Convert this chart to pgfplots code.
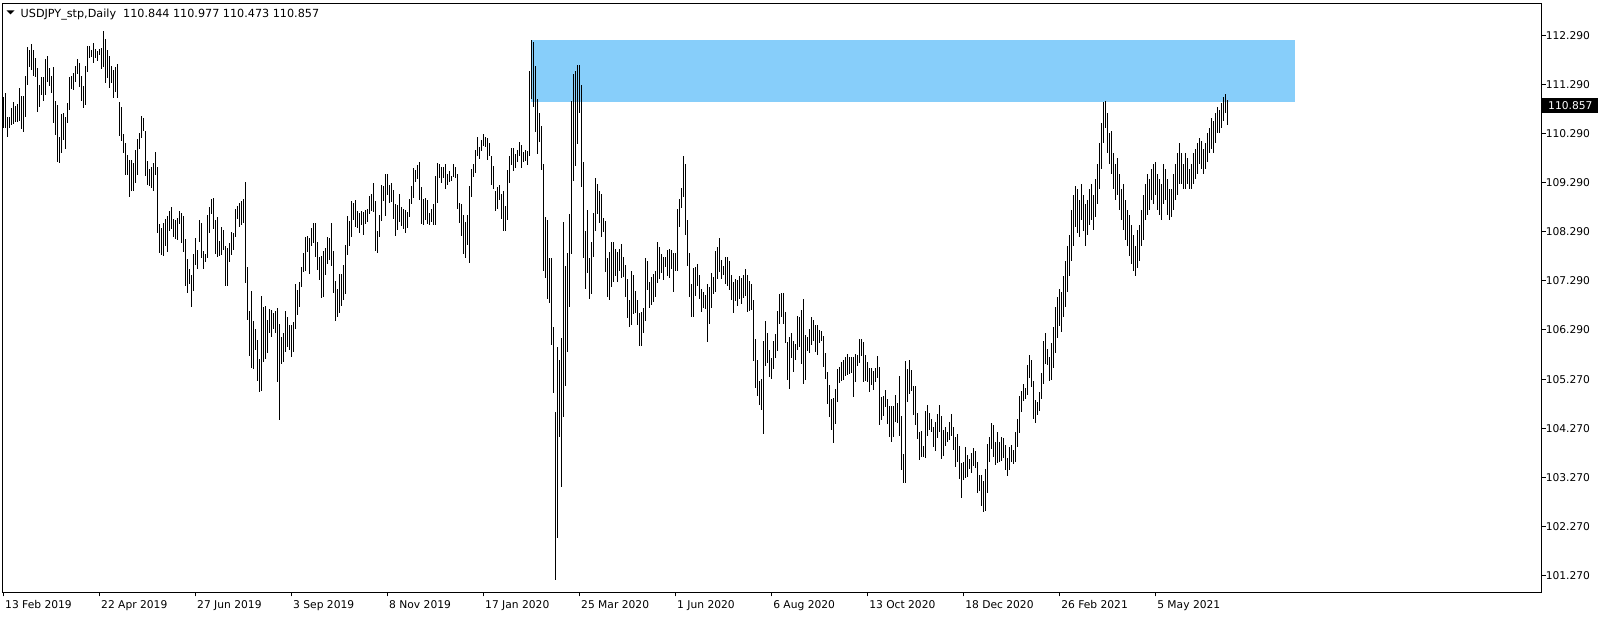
\documentclass[border=0pt]{standalone}
\usepackage{fontspec}
\setmainfont{DejaVu Sans}
\usepackage{pgfplots}
\usepackage{pgfplotstable}
\pgfplotsset{compat=1.18}
\definecolor{zone}{RGB}{135,206,250}

% daily high / low, USDJPY, one row per bar
\pgfplotstableread{
h l
111.05 110.40
111.13 110.42
110.64 110.23
110.64 110.42
110.82 110.46
110.93 110.50
110.86 110.54
110.90 110.54
111.23 110.55
111.07 110.38
111.07 110.33
111.47 110.64
112.07 111.29
112.00 111.66
112.12 111.59
112.00 111.46
111.83 111.44
111.64 110.74
111.29 110.84
111.46 111.08
111.46 110.97
111.82 111.08
111.88 111.35
111.63 111.27
111.48 111.13
111.66 110.52
110.95 110.27
110.88 109.72
110.23 109.69
110.69 109.89
110.71 110.16
110.64 109.99
110.93 110.52
111.44 110.78
111.46 111.20
111.54 111.18
111.68 111.35
111.82 111.51
111.73 111.25
111.46 110.95
111.27 110.82
111.67 110.88
112.08 111.56
112.08 111.83
112.00 111.86
112.15 111.73
112.03 111.83
111.98 111.78
112.02 111.90
112.05 111.61
112.39 111.66
112.22 111.33
112.00 111.42
111.88 111.22
111.67 111.32
111.59 111.03
111.66 111.15
111.71 111.03
110.93 110.25
110.84 110.14
110.29 109.89
110.11 109.46
109.86 109.46
109.76 109.01
109.76 109.13
109.70 109.13
109.96 109.29
110.18 109.46
110.31 109.99
110.66 110.21
110.61 110.35
110.35 109.44
109.74 109.25
109.57 109.23
109.62 109.19
109.70 109.13
109.92 109.46
109.62 108.26
108.45 107.87
108.36 107.82
108.48 107.80
108.55 108.00
108.61 107.87
108.72 108.31
108.79 108.34
108.55 108.19
108.53 108.14
108.58 108.12
108.72 108.45
108.67 108.06
108.61 107.89
108.14 107.19
107.74 107.04
107.53 107.23
107.41 106.76
107.84 107.09
108.17 107.61
107.92 107.53
108.53 108.09
108.48 107.75
107.90 107.53
107.84 107.68
108.63 107.76
108.79 108.26
108.96 108.65
108.99 108.34
108.53 107.84
108.59 107.78
108.11 107.80
108.38 107.82
108.33 107.92
108.00 107.19
107.97 107.19
108.07 107.68
108.28 107.82
108.27 107.93
108.76 108.18
108.82 108.55
108.89 108.40
108.92 108.44
108.97 108.48
109.31 107.24
107.58 106.49
106.68 105.76
107.08 105.51
106.47 105.49
106.31 105.88
106.08 105.25
105.70 105.03
106.98 105.05
106.76 105.64
106.78 105.69
106.49 105.81
106.71 106.22
106.70 106.15
106.64 106.31
106.68 106.22
106.73 105.23
106.41 104.45
106.14 105.59
106.23 105.64
106.68 105.83
106.56 105.95
106.39 105.88
106.39 105.73
106.46 105.83
107.23 106.30
107.10 106.59
107.26 106.75
107.58 107.17
107.87 107.48
108.19 107.50
108.21 107.89
108.16 107.43
108.38 108.01
108.48 108.06
108.48 107.77
108.09 107.51
107.77 107.30
107.80 106.95
107.89 106.97
107.97 107.41
108.19 107.63
108.17 107.72
108.48 107.60
107.89 107.04
107.29 106.48
107.12 106.55
107.44 106.64
107.44 106.78
107.61 106.90
108.02 107.02
108.61 107.82
108.52 108.00
108.91 108.18
108.87 108.53
108.94 108.38
108.72 108.36
108.67 108.27
108.72 108.42
108.70 108.23
108.74 108.46
108.76 108.50
109.02 108.65
109.06 108.72
109.28 108.70
108.91 107.90
108.31 107.87
108.63 108.18
109.25 108.52
109.23 108.91
109.47 108.62
109.47 109.04
109.25 108.87
109.28 108.91
109.14 108.55
108.86 108.21
108.84 108.33
109.06 108.50
108.80 108.40
108.75 108.34
108.74 108.26
108.70 108.38
108.96 108.59
109.23 108.86
109.59 108.99
109.55 109.31
109.65 109.36
109.71 108.95
109.20 108.45
108.96 108.42
108.99 108.53
108.93 108.45
108.67 108.42
108.76 108.50
108.86 108.44
109.43 108.44
109.69 108.87
109.67 109.38
109.62 109.28
109.62 109.38
109.67 109.16
109.48 109.25
109.53 109.31
109.44 109.33
109.68 109.40
109.62 109.39
109.47 108.75
108.89 108.48
108.86 108.20
108.64 107.84
108.50 107.75
108.63 108.02
109.23 107.65
109.58 109.00
109.68 109.41
109.95 109.49
110.22 109.84
110.02 109.77
110.17 109.95
110.28 110.04
110.22 110.02
110.21 109.75
110.10 109.83
109.84 109.25
109.64 109.16
109.13 108.72
109.20 108.75
109.25 108.94
109.07 108.55
109.13 108.30
108.81 108.30
109.55 108.53
109.84 109.29
110.01 109.66
110.01 109.53
109.88 109.60
109.97 109.72
110.12 109.83
110.06 109.60
109.91 109.71
109.97 109.73
109.95 109.66
111.58 109.84
112.20 111.00
112.17 110.83
111.68 110.32
111.01 109.88
110.71 110.12
110.46 109.55
109.68 107.50
108.59 107.34
108.54 106.92
107.75 106.84
107.75 105.98
106.35 105.01
104.61 101.19
105.94 102.04
105.67 104.11
106.12 103.09
108.50 104.52
107.60 105.14
107.87 105.84
108.65 106.76
110.96 107.84
111.51 109.33
111.58 109.64
111.69 110.08
111.69 110.72
111.29 109.20
109.71 107.75
108.30 107.12
108.74 107.45
107.75 106.92
108.09 107.03
108.68 107.78
109.38 108.30
109.27 108.65
109.12 108.48
109.06 108.19
108.57 108.29
108.52 107.48
107.76 106.97
107.87 106.91
108.08 107.16
108.08 107.27
107.95 107.40
107.89 107.27
107.94 107.50
108.04 107.34
107.77 107.38
107.61 106.97
107.33 106.54
106.90 106.34
107.49 106.39
107.41 106.61
107.08 106.64
106.90 106.39
106.63 105.97
106.65 105.97
106.73 106.22
107.76 106.48
107.70 107.10
107.27 106.73
107.38 106.80
107.43 106.85
107.49 106.97
108.08 107.24
107.99 107.33
107.84 107.46
107.77 107.31
107.77 107.57
107.92 107.39
107.94 107.36
107.92 107.53
107.87 107.07
107.86 107.50
108.76 107.49
108.97 108.40
109.18 108.77
109.84 109.01
109.67 108.23
108.53 107.60
107.85 106.97
107.23 106.56
107.56 106.56
107.58 106.99
107.63 107.19
107.41 106.93
107.12 106.66
107.07 106.74
107.00 106.71
107.23 106.05
107.17 106.41
107.46 106.73
107.36 107.02
107.89 107.07
107.99 107.33
108.16 107.48
107.72 107.32
107.59 107.41
107.78 107.23
107.77 107.19
107.70 107.10
107.40 106.91
107.27 106.63
107.32 106.89
107.31 106.78
107.39 106.93
107.36 106.82
107.40 106.95
107.53 106.99
107.40 106.66
107.29 106.68
107.23 106.70
106.90 105.66
106.10 105.11
105.68 104.94
105.25 104.76
105.29 104.66
106.06 104.17
106.47 105.55
106.22 105.61
105.88 105.32
105.71 105.29
106.06 105.49
106.21 105.71
106.68 105.87
107.02 106.41
107.04 106.56
107.04 106.41
106.66 106.03
106.05 105.27
106.15 105.08
106.23 105.71
106.06 105.44
106.00 105.68
106.57 105.87
106.55 105.95
106.70 105.59
106.93 105.19
106.19 105.27
106.15 105.85
106.30 105.83
106.55 105.98
106.49 106.07
106.39 105.85
106.39 105.78
106.29 106.02
106.27 106.06
106.17 105.54
105.81 105.29
105.44 104.78
105.17 104.52
104.89 104.25
104.91 103.99
105.08 104.38
105.49 104.83
105.53 105.20
105.64 105.25
105.68 105.27
105.73 105.36
105.79 105.38
105.73 105.40
105.74 105.42
105.73 104.93
105.79 105.22
105.78 105.56
106.10 105.61
106.10 105.76
106.05 105.23
105.78 105.25
105.64 105.23
105.51 105.03
105.52 105.17
105.46 105.06
105.51 105.23
105.76 105.32
105.54 104.34
104.93 104.45
104.95 104.54
105.06 104.71
104.89 104.37
104.74 104.11
104.74 104.01
104.74 104.11
104.96 104.41
104.81 104.40
105.35 104.13
104.53 103.43
103.76 103.17
105.66 103.17
105.49 104.81
105.68 104.98
105.47 105.05
105.15 104.55
105.15 104.35
104.60 104.06
104.21 103.64
104.23 103.70
103.92 103.70
104.64 103.68
104.76 104.13
104.59 104.25
104.47 104.20
104.30 103.91
104.42 103.83
104.57 104.08
104.76 104.21
104.53 103.66
104.25 103.72
104.32 103.93
104.21 104.01
104.42 104.04
104.57 104.13
104.30 103.83
104.11 103.50
104.17 103.60
103.92 103.25
103.57 102.87
103.59 103.23
103.91 103.26
103.74 103.30
103.65 103.45
103.79 103.38
103.89 103.51
103.82 103.47
103.59 102.96
103.33 103.01
103.33 102.70
103.21 102.58
103.45 102.60
103.96 102.96
104.11 103.60
104.40 103.87
104.35 103.69
104.01 103.53
104.20 103.57
104.00 103.60
104.10 103.62
104.08 103.67
103.94 103.43
103.67 103.32
103.91 103.43
103.94 103.59
103.84 103.55
104.20 103.59
104.47 103.91
104.94 104.18
105.05 104.61
105.19 104.83
105.11 104.89
105.57 104.96
105.78 105.30
105.68 105.13
105.25 104.47
104.85 104.40
104.81 104.55
105.02 104.64
105.42 104.89
106.06 105.18
106.22 105.59
105.91 105.57
105.74 105.25
106.03 105.26
106.34 105.51
106.76 105.82
106.97 106.13
107.13 106.38
107.07 106.24
107.39 106.55
107.70 106.76
108.01 107.07
108.22 107.39
108.74 107.70
109.05 108.01
109.22 108.39
109.16 108.26
108.95 108.18
109.26 108.53
109.05 108.30
108.85 108.01
108.95 108.22
109.16 108.43
109.26 108.53
109.05 108.32
109.37 108.60
109.68 108.85
110.10 109.16
110.52 109.58
110.93 110.10
110.97 110.41
110.72 109.89
110.31 109.68
110.35 109.47
109.89 109.16
109.68 108.95
109.79 109.05
109.47 108.74
109.16 108.53
109.26 108.32
108.95 108.12
108.74 108.01
108.64 107.80
108.43 107.64
108.22 107.49
108.01 107.39
108.32 107.55
108.43 107.70
108.74 108.01
109.05 108.12
109.26 108.53
109.47 108.64
109.37 108.74
109.58 108.95
109.68 108.85
109.72 109.05
109.47 108.74
109.37 108.64
109.26 108.53
109.68 108.85
109.58 108.95
109.37 108.64
109.16 108.53
109.16 108.60
109.47 108.74
109.68 108.95
109.89 109.05
110.10 109.26
109.89 109.26
109.68 109.16
109.89 109.16
109.79 109.26
109.58 109.16
109.68 109.16
109.89 109.26
109.99 109.37
110.10 109.47
110.20 109.68
110.14 109.58
109.99 109.47
110.10 109.58
110.31 109.72
110.41 109.89
110.62 109.99
110.56 109.89
110.72 110.10
110.83 110.31
110.77 110.31
110.93 110.41
111.04 110.56
111.10 110.72
110.977 110.473
}\bars

\begin{document}
\begin{tikzpicture}[x=1pt,y=1pt,font=\fontsize{10.7}{12}\selectfont]
\useasboundingbox (0,0) rectangle (1604,618);
\begin{axis}[
  at={(2.5pt,25.5pt)}, anchor=south west, scale only axis,
  width=1539pt, height=589pt,
  xmin=-0.5, xmax=769, ymin=100.933, ymax=112.949,
  axis line style={line width=1pt, black},
  tick style={line width=1pt, black},
  major tick length=4pt,
  tick align=outside,
  xtick pos=bottom, ytick pos=right,
  yticklabel pos=right,
  scaled y ticks=false,
  xtick={0,48,96,144,192,240,288,336,384,432,480,528,576},
  xticklabels={13 Feb 2019, 22 Apr 2019, 27 Jun 2019, 3 Sep 2019, 8 Nov 2019, 17 Jan 2020, 25 Mar 2020, 1 Jun 2020, 6 Aug 2020, 13 Oct 2020, 18 Dec 2020, 26 Feb 2021, 5 May 2021},
  xticklabel style={anchor=north west, inner sep=0pt, xshift=1.5pt, yshift=-4pt},
  ytick={101.27,102.27,103.27,104.27,105.27,106.29,107.29,108.29,109.29,110.29,111.29,112.29},
  yticklabel style={anchor=west, inner sep=0pt,
    /pgf/number format/fixed, /pgf/number format/fixed zerofill,
    /pgf/number format/precision=3, /pgf/number format/assume math mode=true},
]
\fill[zone] (axis cs:263.75,110.933) rectangle (axis cs:645.75,112.204);
\addplot[mark=none, draw=none, forget plot,
  error bars/.cd, y dir=both, y explicit, error mark=none,
  error bar style={draw=black, line width=1pt}]
  table[x expr=\coordindex, y expr={(\thisrow{h}+\thisrow{l})/2},
        y error expr={(\thisrow{h}-\thisrow{l})/2}] {\bars};
\end{axis}
\fill[black] (6.5,607.5) -- (14.5,607.5) -- (10.5,603.5) -- cycle;
\node[anchor=base west, inner sep=0pt] at (20.5,600.9) {\fontsize{11.2}{13}\selectfont USDJPY\_stp,Daily\ \ 110.844 110.977 110.473 110.857};
\fill[black] (1541,505) rectangle (1598,519.5);
\node[anchor=base west, inner sep=0pt, text=white] at (1548,508.2) {110.857};
\end{tikzpicture}
\end{document}
